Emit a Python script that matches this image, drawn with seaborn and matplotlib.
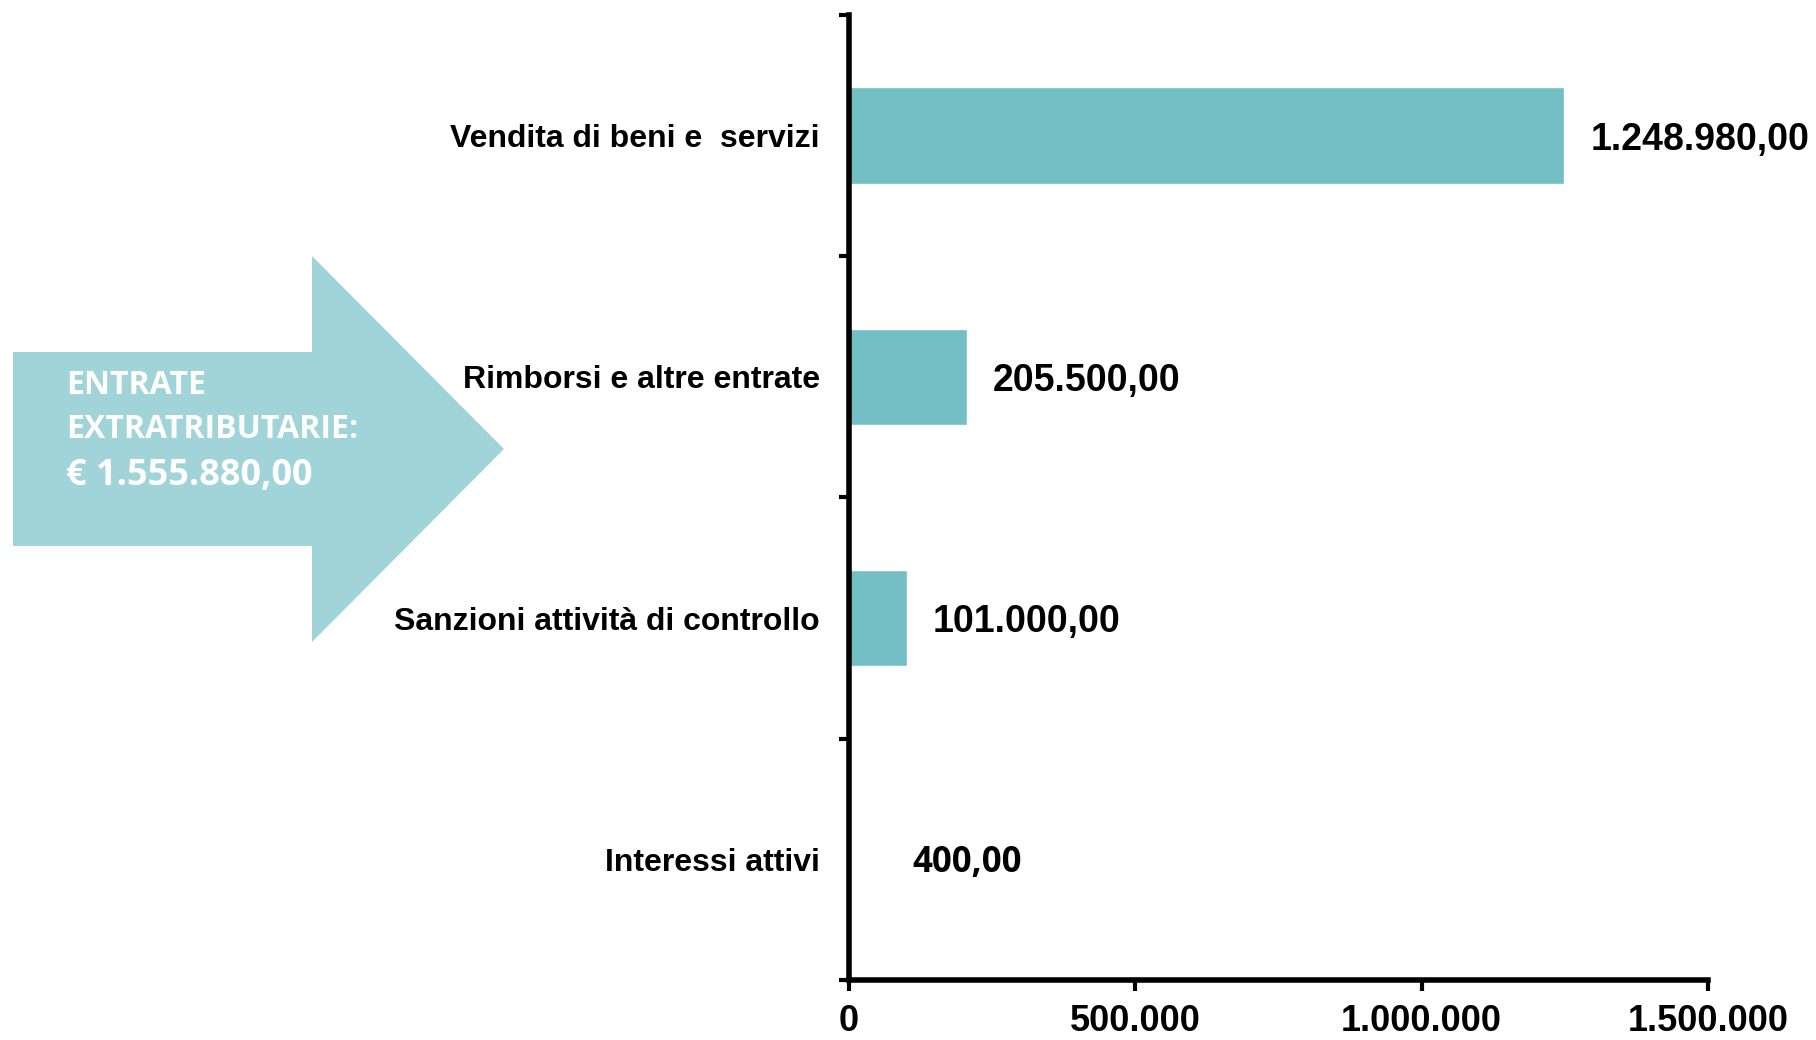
import matplotlib.pyplot as plt
import matplotlib.patches as mpatches
import seaborn as sns
import pandas as pd

# data
categories = ['Vendita di beni e  servizi', 'Rimborsi e altre entrate',
              'Sanzioni attività di controllo', 'Interessi attivi']
values = [1248980.00, 205500.00, 101000.00, 400.00]
value_labels = ['1.248.980,00', '205.500,00', '101.000,00', '400,00']
xticks = [0, 500000, 1000000, 1500000]
xtick_labels = ['0', '500.000', '1.000.000', '1.500.000']
arrow_lines = ['ENTRATE', 'EXTRATRIBUTARIE:', '€ 1.555.880,00']

df = pd.DataFrame({'cat': categories, 'val': values})

sns.set_style('white')
plt.rcParams['font.family'] = ['Liberation Sans', 'DejaVu Sans']
plt.rcParams['text.color'] = 'black'
plt.rcParams['xtick.color'] = 'black'
plt.rcParams['ytick.color'] = 'black'

fig = plt.figure(figsize=(18.16, 10.4), dpi=100)
ax = fig.add_axes([0.4675, 0.0577, 0.473, 0.928])

sns.barplot(data=df, x='val', y='cat', color='#73BFC5', saturation=1,
            width=0.4, ax=ax, orient='h')

ax.set_xlim(0, 1500000)
ax.set_ylim(3.5, -0.5)
ax.set_xlabel('')
ax.set_ylabel('')

# spines
for s in ['top', 'right']:
    ax.spines[s].set_visible(False)
for s in ['left', 'bottom']:
    ax.spines[s].set_linewidth(4)
    ax.spines[s].set_color('black')

# x ticks
ax.set_xticks(xticks)
ax.set_xticklabels(xtick_labels, fontsize=26, fontweight='bold',
                   family=['Liberation Sans Narrow', 'Liberation Sans'])
ax.tick_params(axis='x', bottom=True, length=8, width=3, pad=9,
               color='black', labelcolor='black')

# y ticks: labels at categories, tick marks at boundaries
ax.set_yticks(range(len(categories)))
ax.set_yticklabels(categories, fontsize=23, fontweight='bold')
ax.tick_params(axis='y', which='major', left=True, length=0, pad=21,
               labelcolor='black')
ax.set_yticks([-0.5, 0.5, 1.5, 2.5, 3.5], minor=True)
ax.tick_params(axis='y', which='minor', left=True, length=7, width=3,
               color='black')

# value labels
for i, (v, lab) in enumerate(zip(values, value_labels)):
    fam = ['Open Sans', 'DejaVu Sans'] if v < 1000 else ['Liberation Sans', 'DejaVu Sans']
    ax.annotate(lab, xy=(max(v, 65000), i), xytext=(26, -4),
                textcoords='offset pixels', va='center', ha='left',
                fontsize=27 if v >= 1000 else 25, fontweight='bold',
                family=fam, color='black', annotation_clip=False)

# big arrow on the left
W, H = 1816, 1040
pts = [(13, 352), (312, 352), (312, 256), (504, 449), (312, 642),
       (312, 546), (13, 546)]
pts = [(x / W, 1 - y / H) for x, y in pts]
arrow = mpatches.Polygon(pts, closed=True, transform=fig.transFigure,
                         facecolor='#A1D4D8', edgecolor='none', zorder=-1)
fig.add_artist(arrow)

for k, (line, yb) in enumerate(zip(arrow_lines, [394, 438, 485])):
    fig.text(66 / W, 1 - yb / H, line, color='white', fontweight='bold',
             fontsize=23 if k < 2 else 26, va='baseline', ha='left',
             family=['Open Sans', 'DejaVu Sans'])

fig.savefig('out.png', dpi=100)
